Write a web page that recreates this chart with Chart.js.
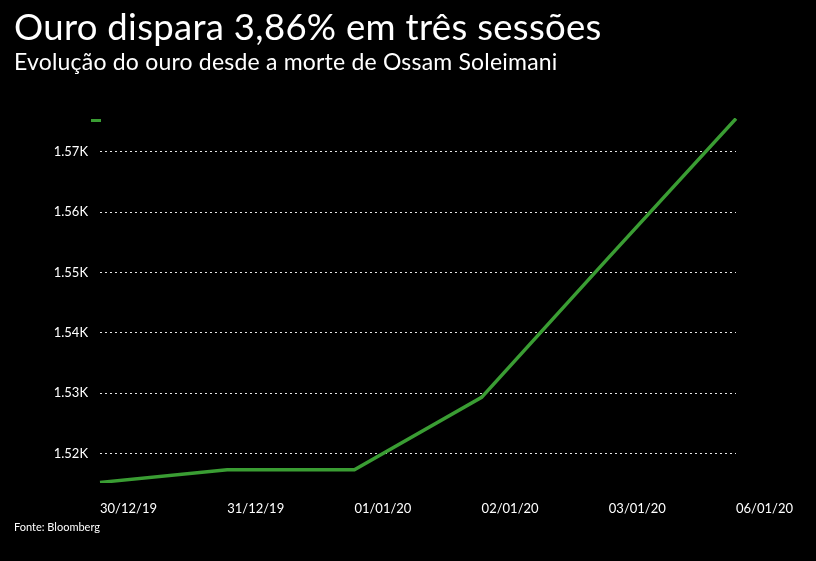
<!DOCTYPE html>
<html><head><meta charset="utf-8">
<script src="https://cdn.jsdelivr.net/npm/chart.js@4"></script>
<style>
html,body{margin:0;padding:0;background:#000;width:816px;height:561px;overflow:hidden;font-family:Lato,sans-serif;color:#fff}
#t{position:absolute;left:14px;top:4px;font-size:36.5px;letter-spacing:0.3px}
#s{position:absolute;left:14px;top:47px;font-size:23px;letter-spacing:0.2px}
#f{position:absolute;left:14px;top:520px;font-size:11px;}
#lg{position:absolute;left:91px;top:119px;width:10px;height:3px;background:#3a9d33}
#w{position:absolute;left:0;top:0;width:816px;height:561px}
</style></head><body>
<div id="w"><canvas id="c"></canvas></div>
<div id="t">Ouro dispara 3,86% em três sessões</div>
<div id="s">Evolução do ouro desde a morte de Ossam Soleimani</div>
<div id="lg"></div>
<div id="f">Fonte: Bloomberg</div>
<script>
const categories=["30/12/19","31/12/19","01/01/20","02/01/20","03/01/20","06/01/20"];
const values=[1515.2,1517.3,1517.3,1529.3,1552.5,1575.5];
const yTicks=[1520,1530,1540,1550,1560,1570];
new Chart(document.getElementById('c'),{
type:'line',
data:{labels:categories,datasets:[{data:values,borderColor:'#3a9d33',borderWidth:3.5,pointRadius:0,tension:0}]},
options:{responsive:true,maintainAspectRatio:false,animation:false,
layout:{padding:{top:118,right:80,bottom:28,left:0}},
plugins:{legend:{display:false},tooltip:{enabled:false}},
scales:{
x:{offset:false,grid:{display:false},border:{display:false},
 ticks:{color:'#fff',align:'start',padding:10,maxRotation:0,font:{family:'Lato',size:13}},
 afterFit(a){a.height=50;}},
y:{min:1515.1,max:1575.6,border:{display:false,dash:[2,3]},
 grid:{color:'rgba(255,255,255,0.9)',drawTicks:false},
 afterBuildTicks(a){a.ticks=yTicks.map(v=>({value:v}));},
 ticks:{color:'#fff',padding:12,font:{family:'Lato',size:13},callback:v=>(v/1000).toFixed(2)+'K'},
 afterFit(a){a.width=100;}}
}}});
</script></body></html>
